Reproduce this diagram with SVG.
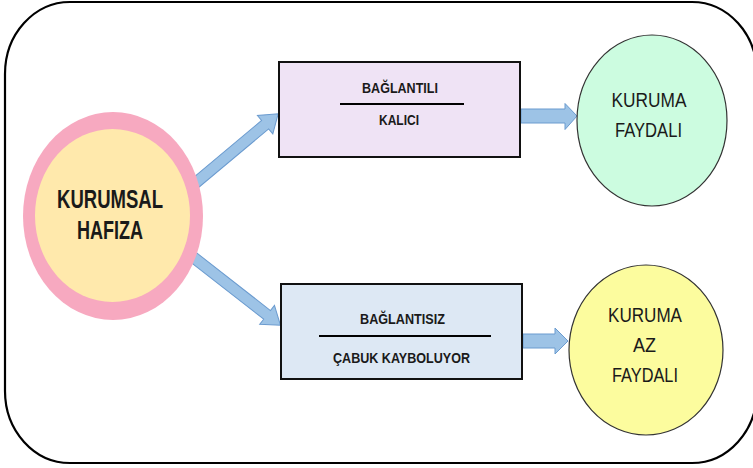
<svg xmlns="http://www.w3.org/2000/svg" width="753" height="468" viewBox="0 0 753 468">
  <style>
    .lbl { font-family: "Liberation Sans", Arial, sans-serif; fill: #1a1a1a; text-anchor: middle; }
    .b { font-weight: bold; }
    .box { stroke: #111; stroke-width: 2; }
    .oval { stroke: #333; stroke-width: 1.2; }
    .arrow { fill: #9DC3E6; stroke: #6B9BCF; stroke-width: 1; stroke-linejoin: miter; }
    .rule { stroke: #000; stroke-width: 2; }
  </style>
  <defs>
    <!-- block arrow pointing right, base at origin, length 110 -->
    <path id="diag" d="M0,-5.5 L94,-5.5 L94,-12 L111,0 L94,12 L94,5.5 L0,5.5 Z"/>
  </defs>

  <!-- outer frame -->
  <rect x="5" y="2" width="752" height="461" rx="65" ry="72" fill="#fff" stroke="#000" stroke-width="2.2"/>

  <!-- connectors -->
  <g id="connectors">
    <use href="#diag" class="arrow" transform="translate(193,185) rotate(-39.9)"/>
    <use href="#diag" class="arrow" transform="translate(193,257) rotate(38)"/>
    <path class="arrow" d="M521,109 L565,109 L565,103.5 L577,116 L565,129.5 L565,123 L521,123 Z"/>
    <path class="arrow" d="M523,334 L555,334 L555,328 L568,341 L555,354 L555,348 L523,348 Z"/>
  </g>

  <!-- central node -->
  <g id="kurumsal-hafiza">
    <ellipse cx="113" cy="216" rx="90" ry="104" fill="#F7A9C0"/>
    <ellipse cx="112.5" cy="215.5" rx="77.5" ry="86.5" fill="#FFE9AC"/>
    <text class="lbl b" x="110" y="208" font-size="25.5" textLength="106" lengthAdjust="spacingAndGlyphs">KURUMSAL</text>
    <text class="lbl b" x="110" y="239" font-size="25.5" textLength="66" lengthAdjust="spacingAndGlyphs">HAFIZA</text>
  </g>

  <!-- upper box -->
  <g id="baglantili">
    <rect class="box" x="279" y="62" width="241" height="95" fill="#EFE3F5"/>
    <text class="lbl b" x="400" y="93" font-size="15.5" textLength="76" lengthAdjust="spacingAndGlyphs">BAĞLANTILI</text>
    <line class="rule" x1="340" y1="104" x2="464" y2="104"/>
    <text class="lbl b" x="399" y="125" font-size="15.5" textLength="40" lengthAdjust="spacingAndGlyphs">KALICI</text>
  </g>

  <!-- lower box -->
  <g id="baglantisiz">
    <rect class="box" x="281" y="284" width="241" height="95" fill="#DDE8F4"/>
    <text class="lbl b" x="402.5" y="324" font-size="15.5" textLength="85" lengthAdjust="spacingAndGlyphs">BAĞLANTISIZ</text>
    <line class="rule" x1="319" y1="336" x2="491" y2="336"/>
    <text class="lbl b" x="401.5" y="363" font-size="15.5" textLength="137" lengthAdjust="spacingAndGlyphs">ÇABUK KAYBOLUYOR</text>
  </g>

  <!-- upper result -->
  <g id="kuruma-faydali">
    <ellipse class="oval" cx="652" cy="120.5" rx="75" ry="85.5" fill="#CCFCE0"/>
    <text class="lbl" x="649" y="107" font-size="19.5" textLength="75" lengthAdjust="spacingAndGlyphs">KURUMA</text>
    <text class="lbl" x="648.5" y="137" font-size="19.5" textLength="67" lengthAdjust="spacingAndGlyphs">FAYDALI</text>
  </g>

  <!-- lower result -->
  <g id="kuruma-az-faydali">
    <ellipse class="oval" cx="646" cy="350" rx="77" ry="85" fill="#FCFC9E"/>
    <text class="lbl" x="645" y="322" font-size="19.5" textLength="74" lengthAdjust="spacingAndGlyphs">KURUMA</text>
    <text class="lbl" x="644.5" y="352" font-size="19.5" textLength="23" lengthAdjust="spacingAndGlyphs">AZ</text>
    <text class="lbl" x="645" y="382" font-size="19.5" textLength="66" lengthAdjust="spacingAndGlyphs">FAYDALI</text>
  </g>
</svg>
